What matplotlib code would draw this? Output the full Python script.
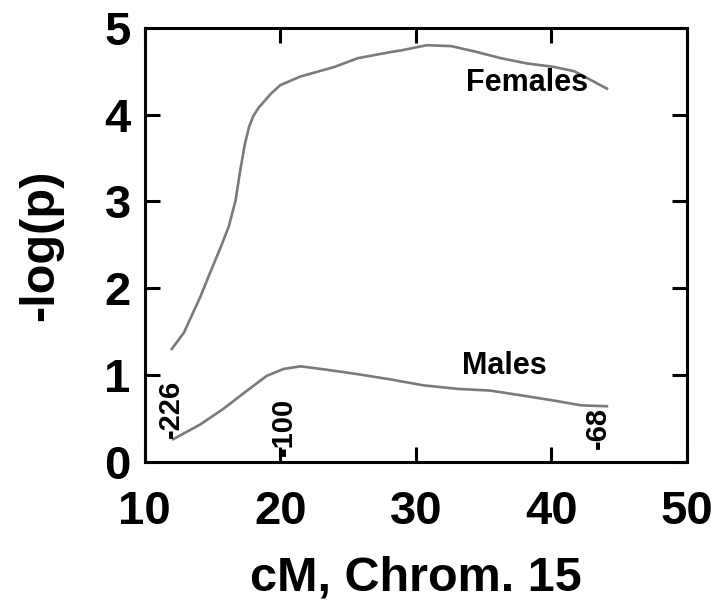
import matplotlib
matplotlib.use("Agg")
import matplotlib.pyplot as plt

# Female curve
female_cm = [12.0, 12.9, 14.1, 14.8, 15.6, 16.2, 16.7, 17.05, 17.4, 17.7, 18.0, 18.4,
             18.8, 19.3, 20.0, 21.5, 24.0, 25.7, 28.1, 28.9, 30.8, 32.6, 34.3, 36.3,
             38.2, 40.2, 41.7, 42.9, 44.1]
female_logp = [1.30, 1.49, 1.90, 2.17, 2.47, 2.71, 3.01, 3.36, 3.67, 3.86, 3.98, 4.08,
               4.15, 4.24, 4.34, 4.44, 4.55, 4.65, 4.72, 4.74, 4.80, 4.79, 4.73, 4.65,
               4.59, 4.55, 4.50, 4.40, 4.30]

# Male curve
male_cm = [12.1, 14.1, 15.8, 17.55, 19.0, 20.25, 21.5, 23.45, 25.7, 28.1, 30.6, 33.1,
           35.5, 38.0, 40.4, 42.2, 44.1]
male_logp = [0.26, 0.43, 0.61, 0.82, 0.99, 1.07, 1.10, 1.06, 1.01, 0.95, 0.88, 0.84,
             0.82, 0.76, 0.70, 0.65, 0.64]

# rotated marker labels along the male curve
marker_labels = ["-226", "-100", "-68"]
marker_x = [11.96, 20.3, 43.4]
marker_y = [0.61, 0.40, 0.39]

x_ticks = [10, 20, 30, 40, 50]
y_ticks = [0, 1, 2, 3, 4, 5]

FONT = "Liberation Sans"


def main():
    plt.rcParams['font.family'] = [FONT, 'DejaVu Sans']
    plt.rcParams['font.weight'] = 'bold'

    fig = plt.figure(figsize=(7.2, 6.06), dpi=100)
    ax = fig.add_axes([0.201, 0.238, 0.753, 0.716])

    line_col = '#7a7a7a'
    ax.plot(female_cm, female_logp, color=line_col, lw=1.9)
    ax.plot(male_cm, male_logp, color=line_col, lw=1.9)

    ax.text(38.2, 4.37, "Females", fontsize=22, fontweight='bold', ha='center', va='center')
    ax.text(36.5, 1.10, "Males", fontsize=22, fontweight='bold', ha='center', va='center')

    for lab, x, y in zip(marker_labels, marker_x, marker_y):
        ax.text(x, y, lab, rotation=90, fontsize=21, fontweight='bold',
                ha='center', va='center')

    ax.set_xlim(10, 50)
    ax.set_ylim(0, 5)
    ax.set_xticks(x_ticks)
    ax.set_yticks(y_ticks)

    for s in ax.spines.values():
        s.set_linewidth(2.2)

    ax.tick_params(axis='both', direction='in', length=11, width=2.2,
                   top=True, right=True, labelsize=34)
    ax.tick_params(axis='x', pad=20)
    ax.tick_params(axis='y', pad=10)
    for lab in ax.get_xticklabels() + ax.get_yticklabels():
        lab.set_fontweight('bold')

    ax.set_xlabel("cM, Chrom. 15", fontsize=35, fontweight='bold')
    ax.set_ylabel("-log(p)", fontsize=35, fontweight='bold')
    ax.xaxis.set_label_coords(0.5, -0.215)
    ax.yaxis.set_label_coords(-0.15, 0.5)

    fig.savefig("out.png", dpi=100)
    plt.close(fig)


if __name__ == "__main__":
    main()
